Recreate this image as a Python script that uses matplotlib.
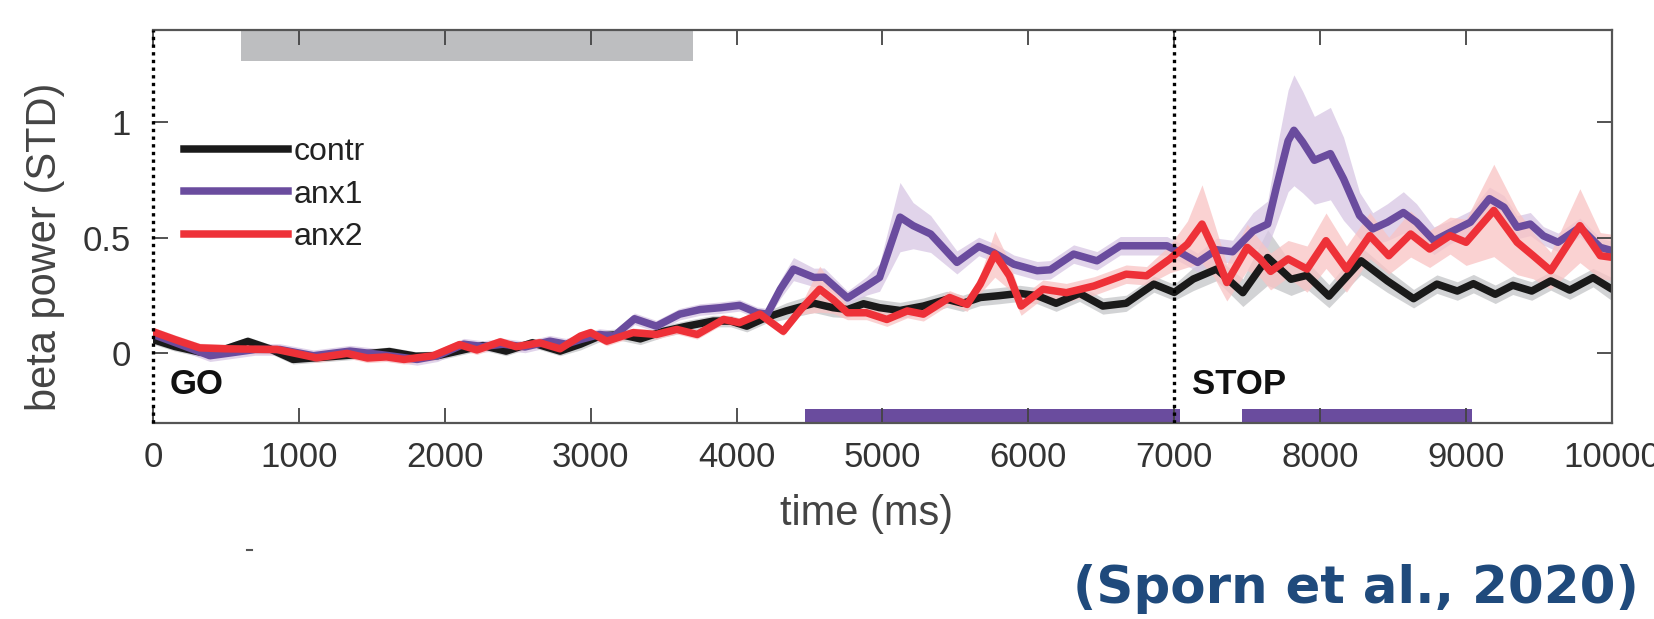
import numpy as np
import matplotlib
matplotlib.use("Agg")
import matplotlib.pyplot as plt
from matplotlib.lines import Line2D

plt.rcParams['font.family'] = ['Liberation Sans', 'DejaVu Sans']

# --- data (time in ms, beta power in STD) ---
t_contr = [0, 150, 320, 500, 650, 800, 960, 1200, 1400, 1620, 1800, 1950, 2130, 2260, 2420,
           2600, 2790, 2930, 3060, 3200, 3340, 3500, 3660, 3840, 3960, 4070, 4200, 4340, 4530,
           4660, 4760, 4870, 4980, 5120, 5280, 5440, 5550, 5670, 5800, 5940, 6060, 6190, 6350,
           6510, 6670, 6860, 7000, 7130, 7290, 7470, 7640, 7800, 7910, 8060, 8280, 8460, 8640,
           8800, 8940, 9050, 9200, 9320, 9450, 9580, 9710, 9870, 10000]
contr_mean = [0.06, 0.03, 0.006, 0.02, 0.052, 0.02, -0.026, -0.015, -0.005, 0.008, -0.012, -0.01,
              0.016, 0.034, 0.01, 0.046, 0.01, 0.04, 0.075, 0.082, 0.063, 0.096, 0.118, 0.14,
              0.14, 0.118, 0.155, 0.184, 0.217, 0.198, 0.19, 0.215, 0.198, 0.186, 0.205, 0.234,
              0.217, 0.242, 0.25, 0.26, 0.25, 0.217, 0.26, 0.205, 0.217, 0.3, 0.264, 0.322, 0.365,
              0.263, 0.415, 0.321, 0.338, 0.248, 0.401, 0.314, 0.237, 0.3, 0.27, 0.302, 0.256,
              0.295, 0.27, 0.314, 0.274, 0.328, 0.278]
contr_sem = [0.02, 0.02, 0.02, 0.02, 0.02, 0.02, 0.02, 0.02, 0.02, 0.02, 0.02, 0.02, 0.02, 0.02,
             0.02, 0.02, 0.02, 0.025, 0.025, 0.025, 0.025, 0.025, 0.025, 0.025, 0.025, 0.025,
             0.025, 0.035, 0.04, 0.04, 0.035, 0.035, 0.035, 0.035, 0.035, 0.035, 0.035, 0.035,
             0.035, 0.035, 0.035, 0.035, 0.035, 0.035, 0.035, 0.035, 0.035, 0.05, 0.05, 0.06,
             0.12, 0.07, 0.06, 0.05, 0.06, 0.05, 0.04, 0.04, 0.04, 0.04, 0.04, 0.04, 0.04, 0.04,
             0.04, 0.04, 0.05]

t_anx1 = [0, 180, 390, 530, 700, 870, 1100, 1350, 1560, 1810, 1950, 2130, 2260, 2400, 2550,
          2720, 2830, 2930, 3060, 3160, 3300, 3450, 3610, 3750, 3890, 4020, 4140, 4210, 4300,
          4390, 4530, 4600, 4760, 4890, 4980, 5120, 5210, 5330, 5510, 5660, 5760, 5900, 6060,
          6150, 6310, 6470, 6630, 6810, 6950, 7060, 7160, 7290, 7400, 7540, 7640, 7700, 7780,
          7820, 7880, 7960, 8070, 8160, 8270, 8360, 8460, 8570, 8660, 8780, 8890, 9030, 9160,
          9260, 9350, 9440, 9530, 9630, 9780, 9920, 10000]
anx1_mean = [0.082, 0.04, -0.01, 0.002, 0.017, 0.017, -0.01, 0.01, -0.005, -0.026, -0.01, 0.04,
             0.03, 0.04, 0.028, 0.053, 0.04, 0.06, 0.082, 0.075, 0.15, 0.118, 0.17, 0.19, 0.198,
             0.208, 0.176, 0.17, 0.278, 0.365, 0.329, 0.33, 0.24, 0.292, 0.329, 0.59, 0.553,
             0.517, 0.394, 0.463, 0.437, 0.386, 0.358, 0.362, 0.43, 0.401, 0.466, 0.466, 0.466,
             0.43, 0.394, 0.449, 0.44, 0.53, 0.56, 0.72, 0.92, 0.966, 0.915, 0.836, 0.865, 0.756,
             0.597, 0.539, 0.568, 0.61, 0.568, 0.488, 0.524, 0.568, 0.67, 0.633, 0.546, 0.56,
             0.509, 0.481, 0.546, 0.459, 0.445]
anx1_sem = [0.025, 0.025, 0.025, 0.025, 0.025, 0.025, 0.025, 0.025, 0.025, 0.025, 0.025, 0.025,
            0.025, 0.025, 0.025, 0.025, 0.025, 0.025, 0.025, 0.025, 0.025, 0.025, 0.025, 0.025,
            0.025, 0.025, 0.025, 0.025, 0.04, 0.05, 0.04, 0.04, 0.03, 0.04, 0.06, 0.15, 0.1,
            0.08, 0.05, 0.04, 0.04, 0.04, 0.04, 0.04, 0.04, 0.04, 0.04, 0.04, 0.04, 0.04, 0.04,
            0.05, 0.05, 0.08, 0.1, 0.16, 0.22, 0.24, 0.22, 0.19, 0.2, 0.18, 0.1, 0.07, 0.08,
            0.09, 0.08, 0.06, 0.05, 0.05, 0.05, 0.05, 0.05, 0.05, 0.04, 0.04, 0.04, 0.04, 0.04]

t_anx2 = [0, 150, 320, 500, 850, 1120, 1330, 1470, 1600, 1720, 1920, 2100, 2220, 2380, 2490,
          2650, 2790, 2930, 3000, 3110, 3290, 3450, 3590, 3730, 3910, 4020, 4160, 4320, 4440,
          4570, 4660, 4760, 4890, 5030, 5170, 5280, 5460, 5580, 5670, 5770, 5870, 5950, 6100,
          6260, 6450, 6670, 6810, 6970, 7090, 7190, 7270, 7360, 7500, 7590, 7660, 7780, 7910,
          8040, 8180, 8340, 8470, 8620, 8750, 8890, 9000, 9190, 9350, 9460, 9580, 9780, 9920,
          10000]
anx2_mean = [0.094, 0.06, 0.024, 0.02, 0.017, -0.019, 0.0, -0.02, -0.015, -0.026, -0.01, 0.038,
             0.015, 0.05, 0.029, 0.046, 0.02, 0.075, 0.09, 0.053, 0.09, 0.082, 0.104, 0.082,
             0.147, 0.133, 0.17, 0.096, 0.19, 0.278, 0.234, 0.176, 0.176, 0.147, 0.184, 0.17,
             0.242, 0.212, 0.3, 0.43, 0.336, 0.205, 0.278, 0.263, 0.292, 0.343, 0.336, 0.409,
             0.473, 0.56, 0.452, 0.307, 0.459, 0.408, 0.355, 0.409, 0.365, 0.488, 0.365, 0.51,
             0.423, 0.517, 0.452, 0.51, 0.481, 0.619, 0.481, 0.423, 0.358, 0.553, 0.423, 0.416]
anx2_sem = [0.02, 0.02, 0.02, 0.02, 0.02, 0.02, 0.02, 0.02, 0.02, 0.02, 0.02, 0.02, 0.02, 0.02,
            0.02, 0.02, 0.02, 0.02, 0.02, 0.02, 0.02, 0.02, 0.02, 0.02, 0.02, 0.02, 0.02, 0.02,
            0.02, 0.1, 0.06, 0.03, 0.03, 0.03, 0.03, 0.03, 0.03, 0.03, 0.04, 0.1, 0.06, 0.04,
            0.04, 0.04, 0.04, 0.04, 0.04, 0.06, 0.1, 0.17, 0.12, 0.08, 0.1, 0.08, 0.08, 0.08,
            0.1, 0.12, 0.1, 0.1, 0.08, 0.1, 0.08, 0.08, 0.1, 0.2, 0.14, 0.1, 0.08, 0.16, 0.1,
            0.1]

group_labels = ['contr', 'anx1', 'anx2']
go_time = 0
stop_time = 7000
grey_window = (600, 3700)          # top grey bar
purple_windows = [(4470, 7040), (7465, 9040)]  # bottom significance bars

c_black = '#1a1a1a'
c_purple = '#6a4c9e'
c_red = '#ee3138'

fig = plt.figure(figsize=(16.54, 6.19), dpi=100)
ax = fig.add_axes([0.0925, 0.3171, 0.8821, 0.6344])

# shaded error bands
for t, m, s, col in [(t_contr, contr_mean, contr_sem, '#c4c5c7'),
                     (t_anx1, anx1_mean, anx1_sem, '#d7c6e4'),
                     (t_anx2, anx2_mean, anx2_sem, '#f9c3c4')]:
    t = np.array(t); m = np.array(m); s = np.array(s)
    ax.fill_between(t, m - s, m + s, color=col, alpha=0.75, lw=0)

for t, m, col in [(t_contr, contr_mean, c_black), (t_anx1, anx1_mean, c_purple),
                  (t_anx2, anx2_mean, c_red)]:
    ax.plot(t, m, color=col, lw=5.4, solid_capstyle='round', solid_joinstyle='round')

# bars marking time windows
ax.broken_barh([(grey_window[0], grey_window[1] - grey_window[0])], (1.265, 0.13),
               facecolor='#bdbec0', edgecolor='none')
ax.broken_barh([(a, b - a) for a, b in purple_windows], (-0.298, 0.058),
               facecolor=c_purple, edgecolor='none')

ax.axvline(go_time, color='black', lw=2.4, ls=(0, (1, 1.3)), clip_on=False, zorder=5)
ax.axvline(stop_time, color='black', lw=2.4, ls=(0, (1, 1.3)), zorder=5)

ax.text(115, -0.135, 'GO', fontsize=25, fontweight='bold', va='center', color='#111')
ax.text(7120, -0.135, 'STOP', fontsize=25, fontweight='bold', va='center', color='#111')

ax.set_xlim(0, 10000)
ax.set_ylim(-0.3, 1.4)
ax.set_xticks(np.arange(0, 10001, 1000))
ax.set_yticks([0, 0.5, 1])
ax.set_yticklabels(['0', '0.5', '1'])
ax.tick_params(direction='in', length=11, width=1.3, top=True, right=True,
               labelsize=25, color='#444444', labelcolor='#333333')
ax.tick_params(axis='x', pad=13)
ax.tick_params(axis='y', pad=16)
for side in ['top', 'right', 'bottom']:
    ax.spines[side].set_color('#555555')
    ax.spines[side].set_linewidth(1.6)
ax.spines['left'].set_visible(False)

ax.set_xlabel('time (ms)', fontsize=30, color='#444444', va='center')
ax.xaxis.set_label_coords(0.489, -0.232)
ax.set_ylabel('beta power (STD)', fontsize=30, color='#444444', va='center')
ax.yaxis.set_label_coords(-0.074, 0.449)

handles = [Line2D([], [], color=c, lw=5.4) for c in [c_black, c_purple, c_red]]
ax.legend(handles, group_labels, loc='upper left', bbox_to_anchor=(0.0215, 0.728),
          frameon=False, fontsize=23, handlelength=3.23, handletextpad=0.2,
          labelspacing=0.4, borderpad=0, borderaxespad=0, labelcolor='#222222')

fig.add_artist(Line2D([0.1493, 0.1523], [0.112, 0.112], lw=1.5, color='#555555'))

fig.text(0.991, 0.049, '(Sporn et al., 2020)', ha='right', va='center', fontsize=37,
         fontweight='bold', color='#1f4a7c', family='DejaVu Sans')

fig.savefig('out.png', dpi=100)
